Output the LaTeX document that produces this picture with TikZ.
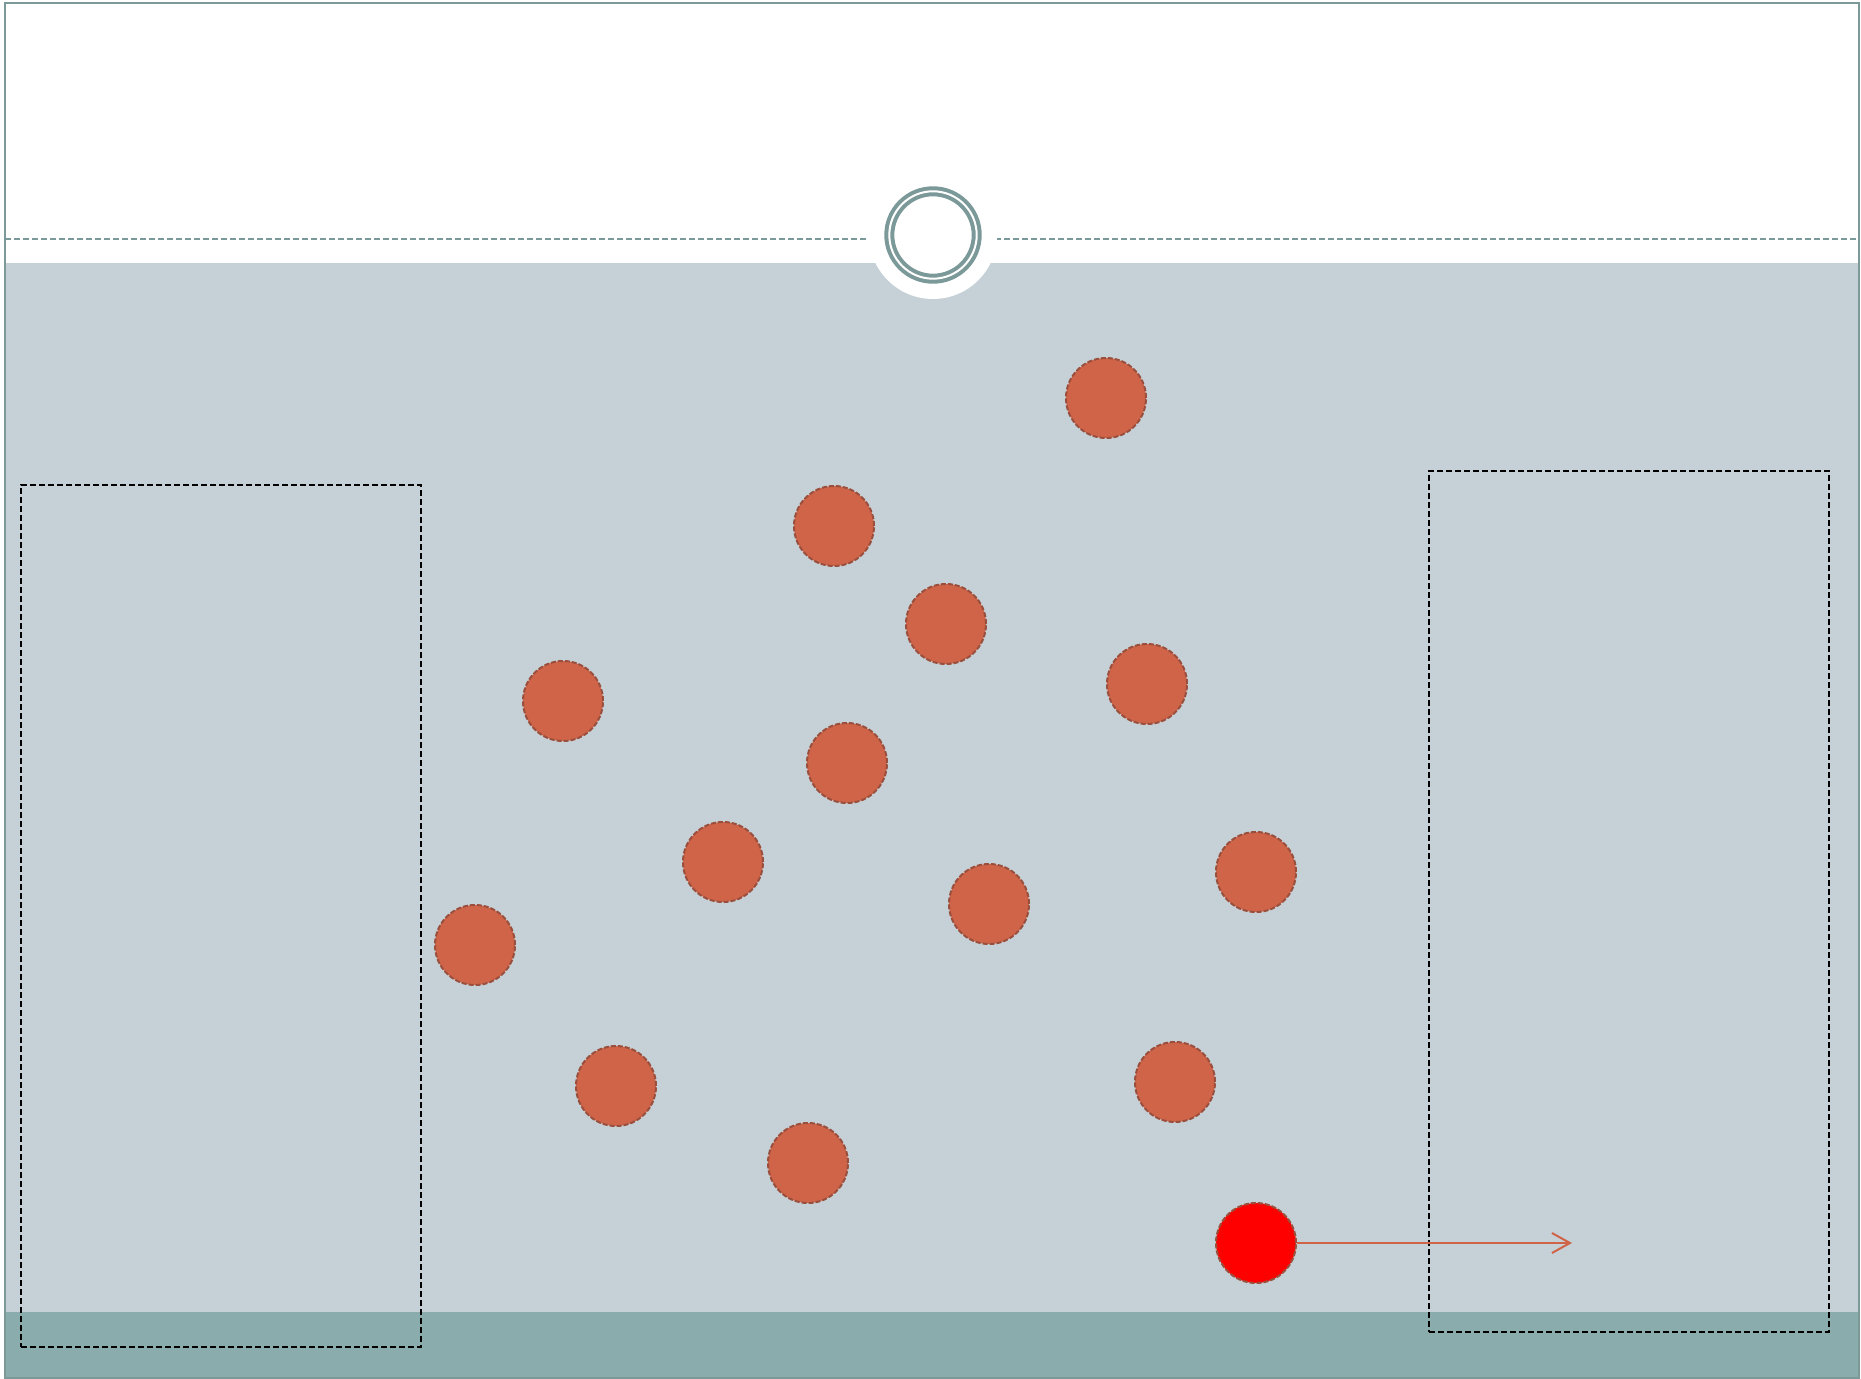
\documentclass[tikz,border=0pt]{standalone}
\usepackage{tikz}
\usetikzlibrary{arrows.meta,backgrounds}
\definecolor{frameTeal}{HTML}{7C9999}
\definecolor{gasGray}{HTML}{C5D1D7}
\definecolor{floorTeal}{HTML}{8AACAD}
\definecolor{coral}{HTML}{D06449}
\definecolor{rim}{HTML}{9A4F3D}
\tikzset{
  particle/.style={circle, fill=coral, draw=rim, dashed,
    dash pattern=on 2.5pt off 1pt, line width=1pt, minimum size=40pt, inner sep=0pt},
  tracer/.style={particle, fill=red},
  zone/.style={draw=black, dash pattern=on 3pt off 1.5pt, line width=1.1pt,
    inner sep=0pt},
  port/.style={circle, draw=frameTeal, double=white, double distance=1pt,
    line width=2pt, fill=white, minimum size=43.7pt, inner sep=0pt},
  motion/.style={-{Straight Barb[length=9pt,width=10pt]}, draw=coral, line width=1pt}
}

\begin{document}
\begin{tikzpicture}[x=.5pt,y=-.5pt]
\useasboundingbox (0,0) rectangle (1861,1379);

% container: open top, gas region, floor
\fill[white] (0,0) rectangle (1861,1379);
\fill[gasGray] (5,263) rectangle (1859,1312);
\fill[floorTeal] (5,1312) rectangle (1859,1378);
\draw[frameTeal, line width=.65pt, dash pattern=on 3pt off 1.5pt] (5,239) -- (1859,239);

% opening in the lid
\node[circle, fill=white, minimum size=64pt, inner sep=0pt] (gap) at (933,235) {};
\node[port] (hole) at (933,235) {};

% gas particles
\foreach \name/\x/\y in {p1/1106/398, p2/834/526, p3/946/624, p4/563/701,
    p5/1147/684, p6/847/763, p7/723/862, p8/989/904, p9/1256/872,
    p10/475/945, p11/616/1086, p12/1175/1082, p13/808/1163}
  \node[particle] (\name) at (\x,\y) {};

\node[tracer] (hot) at (1256,1243) {};
\coordinate (drift) at (1572,1243);

% the two dashed zones
\node[zone, minimum width=200pt, minimum height=431pt] (leftzone) at (221,916) {};
\node[zone, minimum width=200pt, minimum height=430.5pt] (rightzone) at (1629,901.5) {};

\draw[motion] (hot) -- (drift);

% frame
\draw[frameTeal, line width=.8pt] (5,3) rectangle (1859,1378);

\end{tikzpicture}
\end{document}
